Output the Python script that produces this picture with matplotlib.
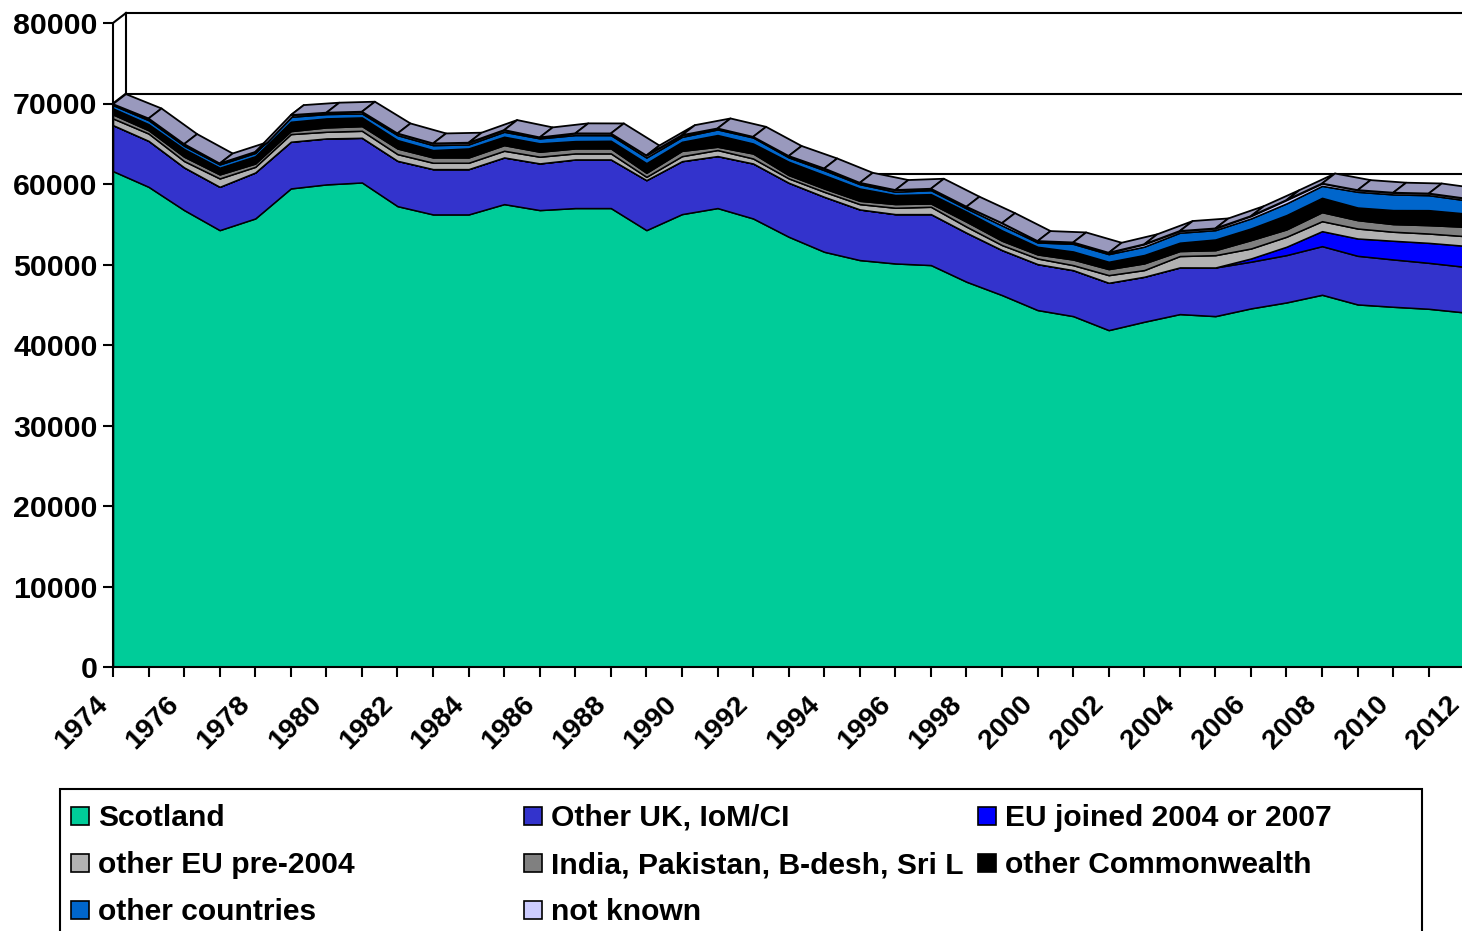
import numpy as np
import matplotlib
matplotlib.use("Agg")
import matplotlib.pyplot as plt
from matplotlib.patches import Rectangle
from matplotlib.transforms import ScaledTranslation

plt.rcParams["font.family"] = ["Liberation Sans", "DejaVu Sans"]
plt.rcParams["font.weight"] = "bold"

# ------------------------------------
# DATA
# ------------------------------------

years = list(range(1974, 2013))

scotland = [61600, 59650, 56760, 54270, 55720, 59450, 59950, 60190, 57250, 56220,
            56220, 57500, 56760, 57010, 57010, 54270, 56260, 57010, 55720, 53450,
            51580, 50550, 50130, 49930, 47860, 46200, 44340, 43590, 41850, 42890,
            43840, 43590, 44550, 45290, 46240, 45040, 44750, 44500, 44050]
other_uk = [5710, 5710, 5300, 5380, 5710, 5800, 5710, 5550, 5630, 5630,
            5630, 5800, 5800, 6040, 6040, 6210, 6580, 6460, 6830, 6710,
            6830, 6290, 6130, 6330, 6090, 5590, 5710, 5710, 5880, 5590,
            5800, 6040, 5800, 5880, 6040, 6040, 5880, 5710, 5670]
eu_joined = [0, 0, 0, 0, 0, 0, 0, 0, 0, 0,
             0, 0, 0, 0, 0, 0, 0, 0, 0, 0,
             0, 0, 0, 0, 0, 0, 0, 0, 0, 0,
             0, 0, 400, 1040, 1860, 2150, 2320, 2480, 2610]
other_eu = [830, 910, 790, 1040, 700, 950, 830, 870, 830, 790,
            790, 830, 830, 750, 750, 410, 620, 750, 620, 540,
            620, 660, 790, 910, 750, 620, 700, 620, 950, 830,
            1410, 1530, 1240, 1240, 1240, 1240, 1120, 1160, 1200]
india_etc = [500, 410, 540, 500, 410, 370, 540, 580, 700, 660,
             660, 700, 620, 620, 620, 500, 660, 410, 620, 410,
             410, 410, 460, 410, 620, 540, 500, 700, 750, 830,
             620, 620, 1040, 910, 1120, 1040, 950, 1040, 1160]
other_cw = [750, 750, 950, 830, 910, 1160, 1120, 1080, 1040, 910,
            1120, 1040, 1040, 910, 950, 1200, 1120, 1450, 1240, 1660,
            1660, 1530, 1120, 1160, 1240, 1280, 950, 1000, 910, 1040,
            1040, 1330, 1450, 1780, 1780, 1570, 1740, 1860, 1660]
other_countries = [410, 500, 410, 410, 410, 620, 540, 500, 620, 620,
                   500, 620, 620, 750, 700, 700, 620, 700, 750, 540,
                   620, 540, 410, 500, 410, 620, 540, 950, 950, 1040,
                   1240, 1160, 1240, 1450, 1490, 1950, 1950, 1860, 1660]
not_known = [120, 210, 210, 120, 120, 210, 170, 210, 210, 210,
             210, 210, 120, 210, 210, 250, 210, 120, 80, 170,
             210, 170, 210, 170, 210, 290, 170, 170, 170, 290,
             210, 210, 290, 410, 290, 210, 210, 210, 210]

series_names = ["Scotland", "Other UK, IoM/CI", "EU joined 2004 or 2007",
                "other EU pre-2004", "India, Pakistan, B-desh, Sri L", "other Commonwealth",
                "other countries", "not known"]
series_colors = ["#00CC99", "#3333CC", "#0000FF",
                 "#B2B2B2", "#808080", "#000000",
                 "#0066CC", "#CCCCFF"]
ribbon_color = "#9999BD"

y_ticks = list(range(0, 90000, 10000))

# ------------------------------------
# LAYOUT (pixels of the 1462x931 picture)
# ------------------------------------

W, H = 1462, 931
AX_LEFT, AX_RIGHT = 113, 113 + 38 * 35.56   # 2012 falls just off the picture
AX_BOTTOM, AX_TOP = 667, 8
PX_PER_UNIT = (667 - 23) / 80000.0

DEPTH_X = 13 / 35.56            # years
DEPTH_Y = 10 / PX_PER_UNIT      # people

LW = 1.5
AREA_LW = 1.1
FONT = 21.6
Y_TICK_FONT = 21.8
X_TICK_FONT = 20.5

fig = plt.figure(figsize=(W / 100, H / 100), dpi=100, facecolor="white")
ax = fig.add_axes([AX_LEFT / W, 1 - AX_BOTTOM / H,
                   (AX_RIGHT - AX_LEFT) / W, (AX_BOTTOM - AX_TOP) / H])
ax.set_xlim(years[0], years[-1])
ax.set_ylim(0, (AX_BOTTOM - AX_TOP) / PX_PER_UNIT)
ax.patch.set_visible(False)
for side in ["top", "right"]:
    ax.spines[side].set_visible(False)
for side in ["left", "bottom"]:
    ax.spines[side].set_linewidth(LW)
    ax.spines[side].set_zorder(6)
ax.spines["left"].set_bounds(0, 80000)

# ------------------------------------
# BACK WALL
# ------------------------------------

x_back = years[0] + DEPTH_X
for v in y_ticks[1:]:
    ax.plot([x_back, years[-1] + 1], [v + DEPTH_Y, v + DEPTH_Y], color="black", lw=LW, zorder=1)
    ax.plot([years[0], x_back], [v, v + DEPTH_Y], color="black", lw=LW, zorder=1)
ax.plot([x_back, x_back], [DEPTH_Y, 80000 + DEPTH_Y], color="black", lw=LW, zorder=1)

# ------------------------------------
# STACKED AREAS + TOP RIBBON
# ------------------------------------

stack = [scotland, other_uk, eu_joined, other_eu, india_etc, other_cw, other_countries, not_known]
ax.stackplot(years, *stack, colors=series_colors, edgecolor="black", linewidth=AREA_LW, zorder=3)

total = np.sum(np.array(stack), axis=0)
xs = np.array(years, dtype=float)
for i in range(len(xs) - 1):
    ax.fill([xs[i], xs[i + 1], xs[i + 1] + DEPTH_X, xs[i] + DEPTH_X],
            [total[i], total[i + 1], total[i + 1] + DEPTH_Y, total[i] + DEPTH_Y],
            facecolor=ribbon_color, edgecolor="black", linewidth=AREA_LW + 0.2, joinstyle="round", zorder=4)

# ------------------------------------
# AXES
# ------------------------------------

ax.set_yticks(y_ticks)
ax.set_yticklabels([str(v) for v in y_ticks], fontsize=Y_TICK_FONT, fontweight="bold")
ax.set_xticks(years)
ax.set_xticklabels([str(y) if (y - years[0]) % 2 == 0 else "" for y in years],
                   rotation=45, ha="right", rotation_mode="anchor",
                   fontsize=X_TICK_FONT, fontweight="bold")
ax.tick_params(axis="y", length=7.2, width=LW, pad=4)
ax.tick_params(axis="x", length=7.2, width=LW, pad=10)

# pull the rotated year labels back so their ends sit left of the ticks
shift = ScaledTranslation(-18 / 100, 0, fig.dpi_scale_trans)
for label in ax.get_xticklabels():
    label.set_transform(label.get_transform() + shift)

# ------------------------------------
# LEGEND (three columns, cut by the picture edge)
# ------------------------------------


def fx(px):
    return px / W


def fy(py):
    return 1 - py / H


fig.add_artist(Rectangle((fx(60), fy(960)), (1422 - 60) / W, (960 - 789) / H,
                         transform=fig.transFigure, facecolor="white",
                         edgecolor="black", linewidth=LW))
col_x = [71, 524, 978]
row_y = [816, 863, 910]
for i, (name, color) in enumerate(zip(series_names, series_colors)):
    x0 = col_x[i % 3]
    yc = row_y[i // 3]
    fig.add_artist(Rectangle((fx(x0), fy(yc + 9)), 18 / W, 18 / H, transform=fig.transFigure,
                             facecolor=color, edgecolor="black", linewidth=1.2))
    fig.text(fx(x0 + 27), fy(yc + 10), name, fontsize=FONT, fontweight="bold",
             ha="left", va="baseline", color="black")

fig.savefig("out.png", dpi=100)
